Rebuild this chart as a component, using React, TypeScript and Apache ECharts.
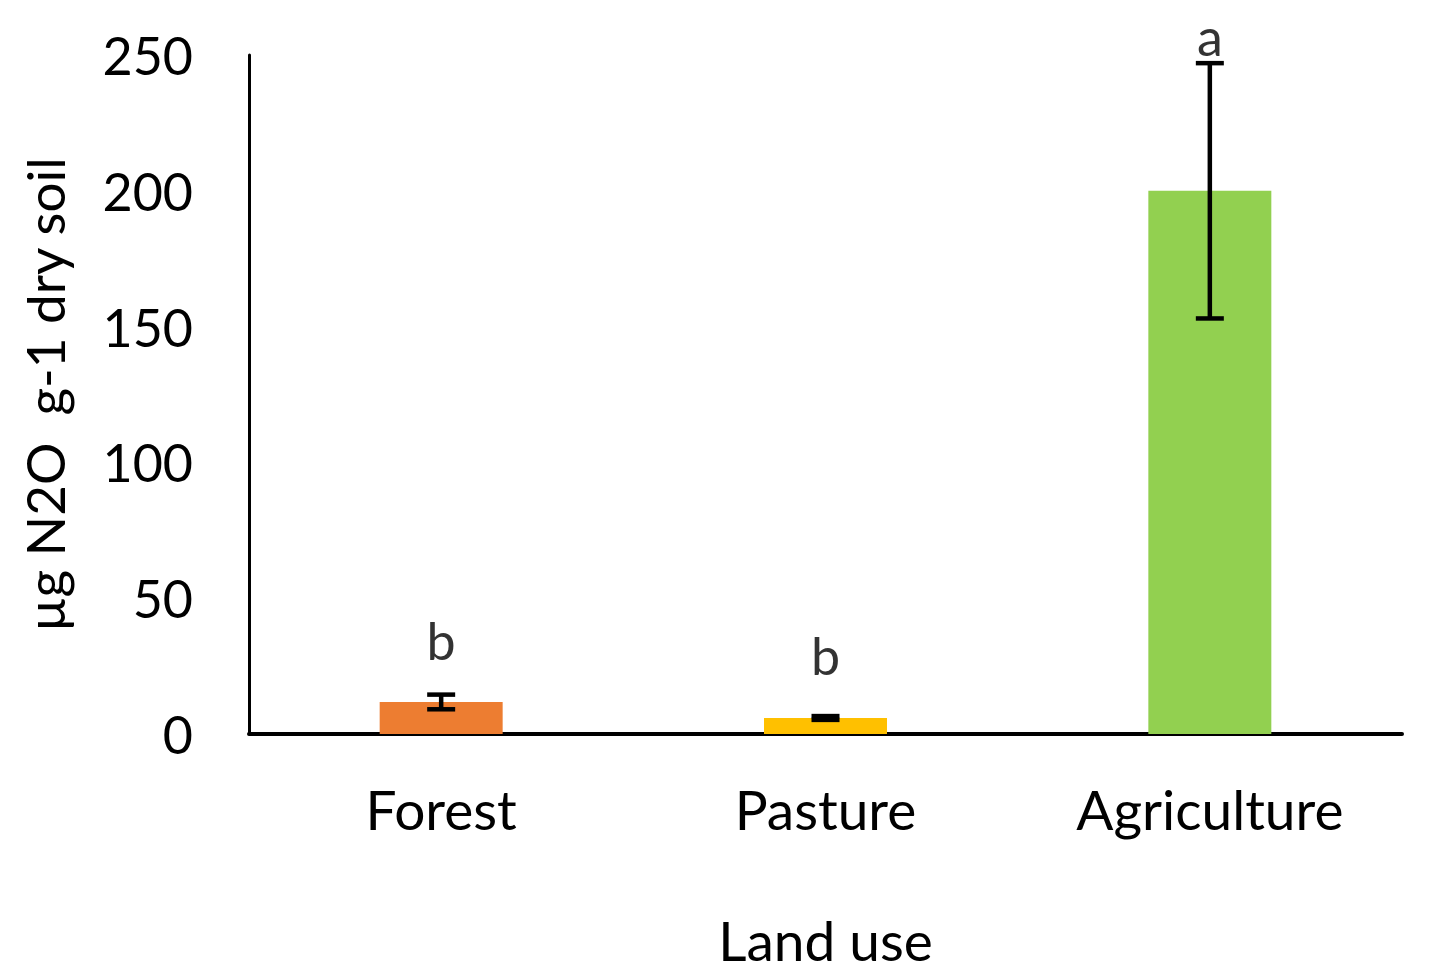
import React, { useEffect, useRef } from "react";
import * as echarts from "echarts";

const categories = ["Forest", "Pasture", "Agriculture"];
const means = [11.8, 5.9, 200];
const errors = [2.7, 0.7, 47];
const barColors = ["#ED7D31", "#FFC000", "#92D050"];
const letters = ["b", "b", "a"];
const letterY = [34.6, 29.1, 257];
const yTicks = { min: 0, max: 250, interval: 50 };

export default function App() {
  const ref = useRef<HTMLDivElement>(null);
  useEffect(() => {
    const chart = echarts.init(ref.current!, undefined, { renderer: "svg" });
    const font = "Lato";
    chart.setOption({
      animation: false,
      backgroundColor: "#ffffff",
      grid: { left: 249, right: 28, top: 55, bottom: 243, containLabel: false, outerBoundsMode: "none" },
      xAxis: {
        type: "category",
        data: categories,
        name: "Land use",
        nameLocation: "middle",
        nameGap: 178,
        nameTextStyle: { fontFamily: font, fontSize: 55, color: "#000" },
        axisLine: { lineStyle: { color: "#000", width: 4 } },
        axisTick: { show: false },
        axisLabel: { fontFamily: font, fontSize: 55, color: "#000", margin: 47 },
      },
      yAxis: {
        type: "value",
        min: yTicks.min,
        max: yTicks.max,
        interval: yTicks.interval,
        name: "µg N2O  g-1 dry soil",
        nameLocation: "middle",
        nameGap: 178,
        nameTextStyle: { fontFamily: font, fontSize: 53, color: "#000" },
        axisLine: { show: true, lineStyle: { color: "#000", width: 3 } },
        axisTick: { show: false },
        splitLine: { show: false },
        axisLabel: { fontFamily: font, fontSize: 52, color: "#000", margin: 56 },
      },
      series: [
        {
          type: "bar",
          barWidth: "32%",
          data: means.map((v, i) => ({ value: v, itemStyle: { color: barColors[i] } })),
        },
        {
          type: "custom",
          z: 5,
          clip: false,
          data: means.map((m, i) => [i, m - errors[i], m + errors[i]]),
          renderItem: (params: any, api: any) => {
            const x = api.value(0);
            const lo = api.coord([x, api.value(1)]);
            const hi = api.coord([x, api.value(2)]);
            const hw = 14;
            const style = { stroke: "#000", lineWidth: 4.5 };
            return {
              type: "group",
              children: [
                { type: "line", shape: { x1: hi[0], y1: hi[1], x2: lo[0], y2: lo[1] }, style },
                { type: "line", shape: { x1: hi[0] - hw, y1: hi[1], x2: hi[0] + hw, y2: hi[1] }, style },
                { type: "line", shape: { x1: lo[0] - hw, y1: lo[1], x2: lo[0] + hw, y2: lo[1] }, style },
              ],
            };
          },
        },
        {
          type: "scatter",
          symbolSize: 0,
          clip: false,
          z: 6,
          data: letterY.map((v, i) => [i, v]),
          label: {
            show: true,
            position: "inside",
            formatter: (p: any) => letters[p.dataIndex],
            fontFamily: font,
            fontSize: 52,
            color: "#000",
            textBorderWidth: 0,
          },
        },
      ],
    });
    return () => chart.dispose();
  }, []);
  return (
    <div
      ref={ref}
      style={{ position: "fixed", left: 0, top: 0, width: 1430, height: 977, background: "#fff" }}
    />
  );
}
